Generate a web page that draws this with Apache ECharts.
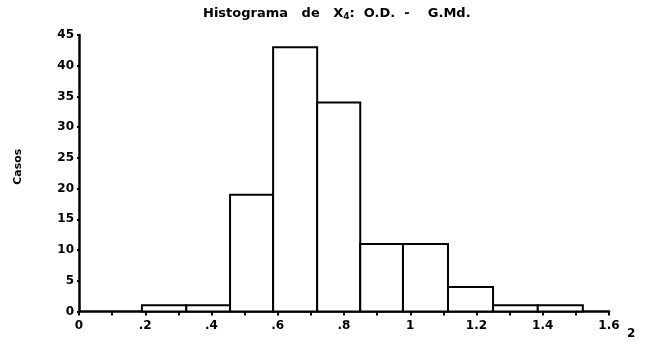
<!DOCTYPE html>
<html>
<head>
<meta charset="utf-8">
<script src="https://cdn.jsdelivr.net/npm/echarts@6/dist/echarts.min.js"></script>
<style>
  html, body { margin: 0; padding: 0; background: #fff; }
  #chart { width: 647px; height: 342px; }
</style>
</head>
<body>
<div id="chart"></div>
<script>
// bin edges (X4 values) and counts
const binStarts = [0.19, 0.324, 0.456, 0.586, 0.719, 0.849, 0.978, 1.114, 1.25, 1.385]
const binEnds = [0.324, 0.456, 0.586, 0.719, 0.849, 0.978, 1.114, 1.25, 1.385, 1.521]
const counts = [1, 1, 19, 43, 34, 11, 11, 4, 1, 1]

const FONT = '"DejaVu Sans", Verdana, sans-serif'

const data = counts.map((c, i) => [binStarts[i], binEnds[i], c])

const chart = echarts.init(document.getElementById('chart'))

chart.setOption({
  animation: false,
  title: {
    text: 'Histograma   de   X{sub|4}:  O.D.  -    G.Md.',
    left: 203,
    top: 7,
    padding: 0,
    textStyle: {
      fontFamily: FONT,
      fontSize: 13,
      fontWeight: 'bold',
      color: '#000',
      rich: {
        sub: { fontFamily: FONT, fontSize: 9, fontWeight: 'bold', verticalAlign: 'bottom', padding: [5, 0, 0, 0] }
      }
    }
  },
  grid: { left: 79, right: 38, top: 35, bottom: 30.5 },
  xAxis: {
    type: 'value',
    min: 0,
    max: 1.6,
    interval: 0.2,
    axisLine: { lineStyle: { color: '#000', width: 2.5 } },
    axisTick: { inside: false, length: 4, lineStyle: { color: '#000', width: 2 } },
    minorTick: { show: true, splitNumber: 2, length: 4, lineStyle: { color: '#000', width: 2 } },
    splitLine: { show: false },
    axisLabel: {
      color: '#000',
      fontFamily: FONT,
      fontWeight: 'bold',
      fontSize: 12,
      margin: 8,
      formatter: v => v === 0 ? '0' : String(+v.toFixed(1)).replace(/^0\./, '.')
    }
  },
  yAxis: {
    type: 'value',
    min: 0,
    max: 45,
    interval: 5,
    offset: 3,
    name: 'Casos',
    nameLocation: 'middle',
    nameGap: 52,
    nameRotate: 90,
    nameTextStyle: { color: '#000', fontFamily: FONT, fontSize: 11, fontWeight: 'bold', padding: [0, 0, 0, 13] },
    axisLine: { show: true, lineStyle: { color: '#000', width: 2.5 } },
    axisTick: { show: true, length: 2, lineStyle: { color: '#000', width: 2 } },
    splitLine: { show: false },
    axisLabel: {
      color: '#000',
      fontFamily: FONT,
      fontWeight: 'bold',
      fontSize: 12,
      margin: 2
    }
  },
  graphic: [{
    type: 'text',
    left: 627,
    top: 328,
    style: { text: '2', fill: '#000', font: 'bold 12px ' + FONT }
  }],
  series: [{
    type: 'custom',
    data: data,
    renderItem: (params, api) => {
      const p0 = api.coord([api.value(0), api.value(2)])
      const p1 = api.coord([api.value(1), 0])
      return {
        type: 'rect',
        shape: { x: p0[0], y: p0[1], width: p1[0] - p0[0], height: p1[1] - p0[1] },
        style: { fill: '#fff', stroke: '#000', lineWidth: 2 }
      }
    }
  }]
})
</script>
</body>
</html>
